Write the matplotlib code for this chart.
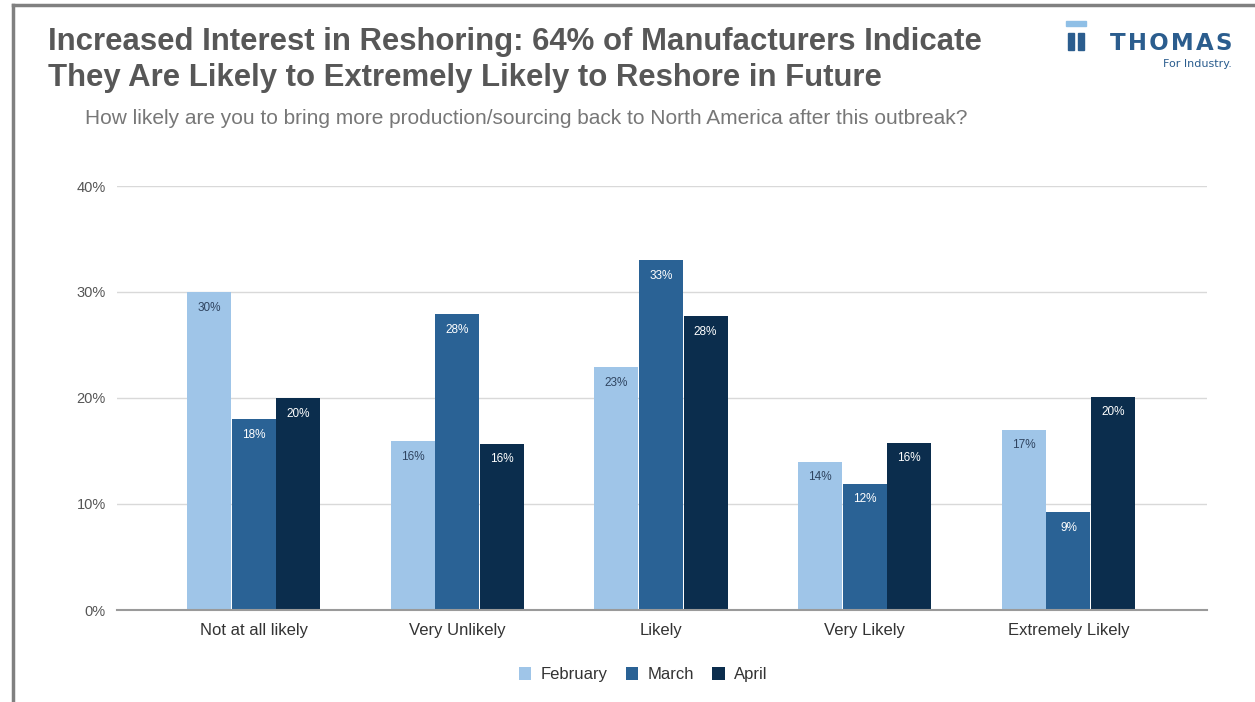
import numpy as np
import matplotlib.pyplot as plt
from matplotlib.lines import Line2D

plt.rcParams['font.family'] = ['Liberation Sans', 'DejaVu Sans']

categories = ["Not at all likely", "Very Unlikely", "Likely", "Very Likely", "Extremely Likely"]
series = ["February", "March", "April"]
february = [30.0, 15.9, 22.9, 14.0, 17.0]
march = [18.0, 27.9, 33.0, 11.9, 9.2]
april = [20.0, 15.7, 27.7, 15.8, 20.1]
feb_labels = ["30%", "16%", "23%", "14%", "17%"]
mar_labels = ["18%", "28%", "33%", "12%", "9%"]
apr_labels = ["20%", "16%", "28%", "16%", "20%"]
yticks = [0, 10, 20, 30, 40]
ytick_labels = ["0%", "10%", "20%", "30%", "40%"]

colors = ["#9fc5e8", "#2a6295", "#0b2d4d"]
label_colors = ["#2f4460", "white", "white"]

fig = plt.figure(figsize=(12.55, 7.02), dpi=100)
ax = fig.add_axes([117/1255, 1-610/702, (1207-117)/1255, (610-186)/702])

x = np.arange(len(categories))
w = 0.216
data = [february, march, april]
labels = [feb_labels, mar_labels, apr_labels]
for i, (vals, labs) in enumerate(zip(data, labels)):
    pos = x + (i - 1) * (w + 0.003)
    bars = ax.bar(pos, vals, width=w, color=colors[i], label=series[i], zorder=3)
    for b, lab in zip(bars, labs):
        ax.text(b.get_x() + b.get_width()/2, b.get_height() - 0.9, lab,
                ha='center', va='top', fontsize=8.5, color=label_colors[i], zorder=4)

ax.set_xlim(-0.67, 4.68)
ax.set_ylim(0, 40)
ax.set_yticks(yticks)
ax.set_yticklabels(ytick_labels, fontsize=10.5, color="#555555")
ax.set_xticks(x)
ax.set_xticklabels(categories, fontsize=12, color="#333333")
ax.tick_params(axis='both', length=0)
ax.tick_params(axis='y', pad=8)
ax.tick_params(axis='x', pad=9)
ax.grid(axis='y', color="#d9d9d9", linewidth=1, zorder=0)
for s in ["top", "right", "left"]:
    ax.spines[s].set_visible(False)
ax.spines["bottom"].set_color("#9a9a9a")
ax.spines["bottom"].set_linewidth(1.5)
ax.spines["bottom"].set_zorder(5)

leg = ax.legend(loc='upper center', bbox_to_anchor=(0.4826, -0.1), ncol=3, frameon=False,
                fontsize=12, handlelength=0.75, handleheight=0.75, columnspacing=1.1,
                handletextpad=0.55)
for t in leg.get_texts():
    t.set_color("#333333")

# titles
fig.text(48/1255, 1-42/702, "Increased Interest in Reshoring: 64% of Manufacturers Indicate",
         fontsize=22.4, fontweight='bold', color="#575757", va='center', ha='left')
fig.text(48/1255, 1-78/702, "They Are Likely to Extremely Likely to Reshore in Future",
         fontsize=22.4, fontweight='bold', color="#575757", va='center', ha='left')
fig.text(85/1255, 1-118/702,
         "How likely are you to bring more production/sourcing back to North America after this outbreak?",
         fontsize=15, color="#777777", va='center', ha='left')

# logo
fig.text(1232/1255, 1-43/702, "T\u200aH\u200aO\u200aM\u200aA\u200aS", fontsize=16.5,
         fontweight='bold', color="#2b5d8e", va='center', ha='right', family='DejaVu Sans')
fig.text(1232/1255, 1-64/702, "For Industry.", fontsize=8, color="#2b5d8e",
         va='center', ha='right', family='DejaVu Sans')
fig.patches.append(plt.Rectangle((1068/1255, 1-50/702), 6/1255, 17/702,
                                 transform=fig.transFigure, color="#2b5d8e"))
fig.patches.append(plt.Rectangle((1078/1255, 1-50/702), 6/1255, 17/702,
                                 transform=fig.transFigure, color="#2b5d8e"))
fig.patches.append(plt.Rectangle((1066/1255, 1-26/702), 20/1255, 5/702,
                                 transform=fig.transFigure, color="#8fbfe6"))

# border
fig.add_artist(Line2D([13/1255, 13/1255], [0, 1-5/702], transform=fig.transFigure,
                      color="#808080", linewidth=2.5))
fig.add_artist(Line2D([13/1255, 1], [1-5/702, 1-5/702], transform=fig.transFigure,
                      color="#808080", linewidth=2.5))

fig.savefig("out.png", dpi=100)
